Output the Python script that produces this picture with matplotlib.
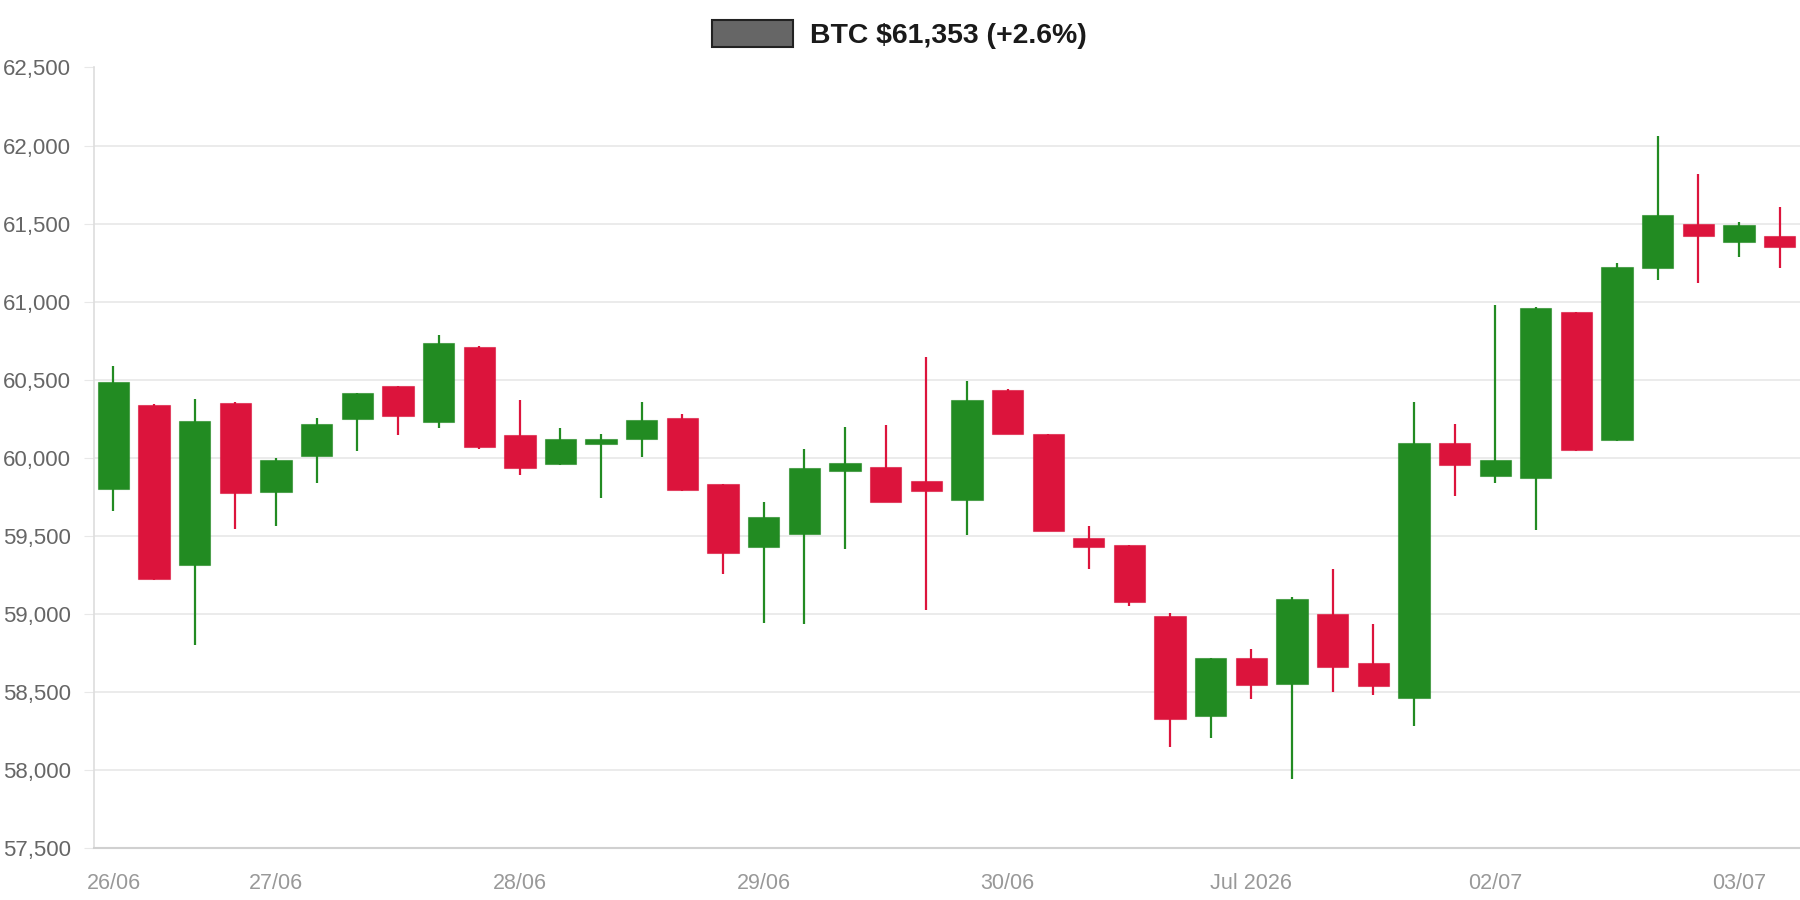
import matplotlib
matplotlib.use("Agg")
import matplotlib.pyplot as plt
from matplotlib.patches import Patch
from matplotlib.ticker import FuncFormatter, MultipleLocator

plt.rcParams['font.family'] = ['Liberation Sans', 'DejaVu Sans']

# 4h candles, 26/06 08:00 -> 03/07
opens = [59800, 60340, 59310, 60350, 59782, 60013, 60248, 60460, 60229, 60712,
         60142, 59957, 60085, 60122, 60254, 59831, 59427, 59508, 59917, 59940,
         59853, 59731, 60431, 60150, 59483, 59438, 58987, 58346, 58716, 58549,
         59000, 58684, 58461, 60094, 59880, 59870, 60932, 60111, 61218, 61496,
         61383, 61419]
highs = [60590, 60345, 60378, 60355, 60000, 60252, 60415, 60462, 60783, 60717,
         60369, 60193, 60150, 60357, 60280, 59833, 59716, 60058, 60199, 60207,
         60644, 60491, 60442, 60152, 59560, 59440, 59006, 58718, 58773, 59107,
         59286, 58931, 60357, 60214, 60979, 60965, 60934, 61250, 62060, 61819,
         61507, 61609]
lows = [59658, 59214, 58800, 59545, 59565, 59840, 60045, 60143, 60192, 60058,
        59887, 59955, 59740, 60004, 59789, 59252, 58938, 58934, 59412, 59716,
        59021, 59502, 60152, 59528, 59288, 59049, 58147, 58201, 58451, 57944,
        58496, 58478, 58278, 59752, 59838, 59538, 60045, 60109, 61139, 61120,
        61284, 61218]
closes = [60485, 59225, 60235, 59775, 59985, 60214, 60412, 60267, 60732, 60070,
          59936, 60120, 60120, 60239, 59791, 59389, 59617, 59934, 59968, 59718,
          59788, 60369, 60154, 59530, 59429, 59075, 58325, 58716, 58543, 59092,
          58656, 58536, 60094, 59953, 59983, 60962, 60047, 61224, 61556, 61419,
          61492, 61353]

tick_idx = [0, 4, 10, 16, 22, 28, 34, 40]
tick_labels = ["26/06", "27/06", "28/06", "29/06", "30/06", "Jul 2026", "02/07", "03/07"]

title = "BTC \\$61,353 (+2.6%)"

UP = "#228B22"
DOWN = "#DC143C"

fig = plt.figure(figsize=(18, 9), dpi=100)
ax = fig.add_axes([0.0522, 0.058, 0.9478, 0.867])

x = list(range(len(opens)))
colors = [UP if c >= o else DOWN for o, c in zip(opens, closes)]
bottoms = [min(o, c) for o, c in zip(opens, closes)]
heights = [abs(c - o) for o, c in zip(opens, closes)]

ax.vlines(x, lows, highs, colors=colors, linewidth=1.6, zorder=2)
ax.bar(x, heights, bottom=bottoms, width=0.77, color=colors,
       edgecolor=[c + "99" for c in colors], linewidth=0.8, zorder=3)

ax.set_xlim(-0.48, 41.5)
ax.set_ylim(57500, 62500)
ax.yaxis.set_major_locator(MultipleLocator(500))
ax.yaxis.set_major_formatter(FuncFormatter(lambda v, p: f"{int(v):,}"))
ax.set_xticks(tick_idx)
ax.set_xticklabels(tick_labels)

ax.grid(axis='y', color='#e8e8e8', linewidth=1.2, zorder=0)
ax.set_axisbelow(True)
for s in ['top', 'right']:
    ax.spines[s].set_visible(False)
ax.spines['left'].set_color('#dddddd')
ax.spines['bottom'].set_color('#d0d0d0')
ax.spines['left'].set_linewidth(1.2)
ax.spines['bottom'].set_linewidth(1.5)

ax.tick_params(axis='y', length=7, color='#e8e8e8', labelsize=16,
               labelcolor='#666666', pad=9.5)
ax.tick_params(axis='x', length=0, labelsize=15.5, labelcolor='#999999', pad=18)

handle = Patch(facecolor='#666666', edgecolor='#222222', linewidth=1.5)
fig.legend([handle], [title], loc='center', bbox_to_anchor=(0.4995, 0.9615),
           frameon=False, handlelength=2.85, handleheight=1.1, handletextpad=0.6,
           prop={'weight': 'bold', 'size': 20.4}, labelcolor='#1a1a1a')

fig.savefig("out.png", dpi=100, facecolor='white')
